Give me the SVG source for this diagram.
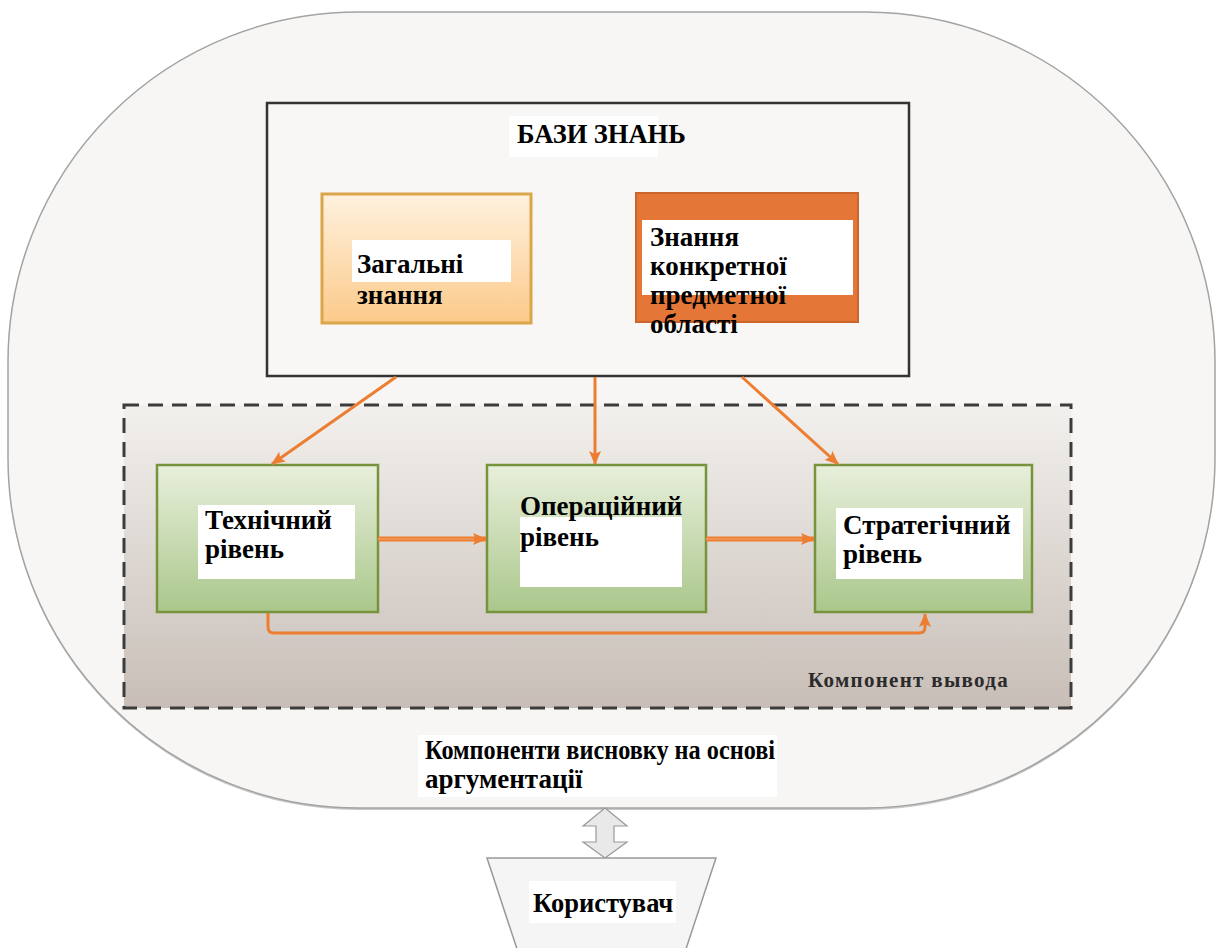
<svg xmlns="http://www.w3.org/2000/svg" width="1217" height="948" viewBox="0 0 1217 948">
  <defs>
    <style>
      .t{font-family:"Liberation Serif","Times New Roman",serif;font-weight:bold;font-size:27px;fill:#000}
      .bg{fill:#fff}
      .conn{fill:none;stroke:#ed7d31;stroke-width:3}
      .flow{fill:none;stroke:#ed7d31;stroke-width:5}
      .flow-in{fill:none;stroke:#f3a877;stroke-width:1.2}
      .lvl{fill:url(#gLevel);stroke:#77933c;stroke-width:2.5}
    </style>
    <linearGradient id="gGeneral" x1="0" y1="0" x2="0" y2="1">
      <stop offset="0" stop-color="#fff1de"/>
      <stop offset="1" stop-color="#fbca8a"/>
    </linearGradient>
    <linearGradient id="gArea" x1="0" y1="0" x2="0" y2="1">
      <stop offset="0" stop-color="#f2f0ed"/>
      <stop offset="1" stop-color="#c8beb7"/>
    </linearGradient>
    <linearGradient id="gLevel" x1="0" y1="0" x2="0" y2="1">
      <stop offset="0" stop-color="#e8efdb"/>
      <stop offset="1" stop-color="#aac78b"/>
    </linearGradient>
    <marker id="ah" viewBox="0 0 14 12" refX="13" refY="6" markerWidth="14" markerHeight="12" markerUnits="userSpaceOnUse" orient="auto">
      <path d="M0,0 L14,6 L0,12 L3,6 z" fill="#ed7d31"/>
    </marker>
  </defs>

  <!-- outer container: argumentation-based inference components -->
  <g id="container">
    <rect x="8" y="14" width="1207" height="796" rx="350" ry="350" fill="#c8c8c8"/>
    <rect x="8" y="12" width="1207" height="796" rx="350" ry="350" fill="#f7f6f4" stroke="#a3a3a3" stroke-width="1.5"/>
    <rect class="bg" x="418" y="735" width="359" height="62"/>
    <text class="t" x="425" y="759" textLength="350" lengthAdjust="spacingAndGlyphs">Компоненти висновку на основі</text>
    <text class="t" x="425" y="788">аргументації</text>
  </g>

  <!-- knowledge bases -->
  <g id="knowledge-bases">
    <rect x="267" y="103" width="642" height="273" fill="#f8f7f5" stroke="#333" stroke-width="2.5"/>
    <rect class="bg" x="509" y="116" width="149" height="41"/>
    <text class="t" x="517" y="143" style="font-size:26.5px">БАЗИ ЗНАНЬ</text>
  </g>

  <g id="general-knowledge">
    <rect x="322" y="194" width="209" height="129" fill="url(#gGeneral)" stroke="#dba64a" stroke-width="3"/>
    <rect class="bg" x="352" y="240" width="159" height="42"/>
    <text class="t" x="357" y="273">Загальні</text>
    <text class="t" x="357" y="304">знання</text>
  </g>

  <g id="domain-knowledge">
    <rect x="636" y="193" width="222" height="129" fill="#e47637" stroke="#cc652c" stroke-width="2"/>
    <rect class="bg" x="642" y="220" width="211" height="75"/>
    <text class="t" x="650" y="246">Знання</text>
    <text class="t" x="650" y="275">конкретної</text>
    <text class="t" x="650" y="304">предметної</text>
    <text class="t" x="650" y="333">області</text>
  </g>

  <!-- inference component area -->
  <g id="inference-area">
    <rect x="124" y="405" width="947" height="303" fill="url(#gArea)" stroke="#3c3c3c" stroke-width="3" stroke-dasharray="15 9"/>
    <text class="t" x="808" y="687" style="font-size:21px;fill:#2b2b2b;letter-spacing:1.3px">Компонент вывода</text>
  </g>

  <g id="level-technical">
    <rect class="lvl" x="157" y="465" width="221" height="147"/>
    <rect class="bg" x="198" y="505" width="157" height="74"/>
    <text class="t" x="205" y="529">Технічний</text>
    <text class="t" x="205" y="558">рівень</text>
  </g>

  <g id="level-operational">
    <rect class="lvl" x="487" y="465" width="219" height="147"/>
    <rect class="bg" x="520" y="517" width="162" height="70"/>
    <text class="t" x="520" y="515">Операційний</text>
    <text class="t" x="520" y="546">рівень</text>
  </g>

  <g id="level-strategic">
    <rect class="lvl" x="815" y="465" width="217" height="147"/>
    <rect class="bg" x="836" y="508" width="187" height="71"/>
    <text class="t" x="843" y="534">Стратегічний</text>
    <text class="t" x="843" y="563">рівень</text>
  </g>

  <!-- connectors -->
  <g id="connectors">
    <path class="conn" d="M396,377 L272,464" marker-end="url(#ah)"/>
    <path class="conn" d="M595,377 L595,464" marker-end="url(#ah)"/>
    <path class="conn" d="M742,377 L838,464" marker-end="url(#ah)"/>
    <path class="flow" d="M378,539 L486,539" marker-end="url(#ah)"/>
    <path class="flow-in" d="M378,539 L474,539"/>
    <path class="flow" d="M706,539 L814,539" marker-end="url(#ah)"/>
    <path class="flow-in" d="M706,539 L802,539"/>
    <path class="conn" d="M268,613 L268,627 Q268,633 274,633 L919,633 Q925,633 925,627 L925,614" marker-end="url(#ah)"/>
    <polygon points="605,808 627,826 614,826 614,842 627,842 605,858 583,842 596,842 596,826 583,826" fill="#e9e9ea" stroke="#9a9a9a" stroke-width="1.2"/>
  </g>

  <!-- user -->
  <g id="user">
    <polygon points="487,858 716,858 685,952 518,952" fill="#f5f5f5" stroke="#999" stroke-width="1.5"/>
    <rect class="bg" x="529" y="881" width="147" height="42"/>
    <text class="t" x="533" y="912" style="font-size:26.5px">Користувач</text>
  </g>
</svg>
